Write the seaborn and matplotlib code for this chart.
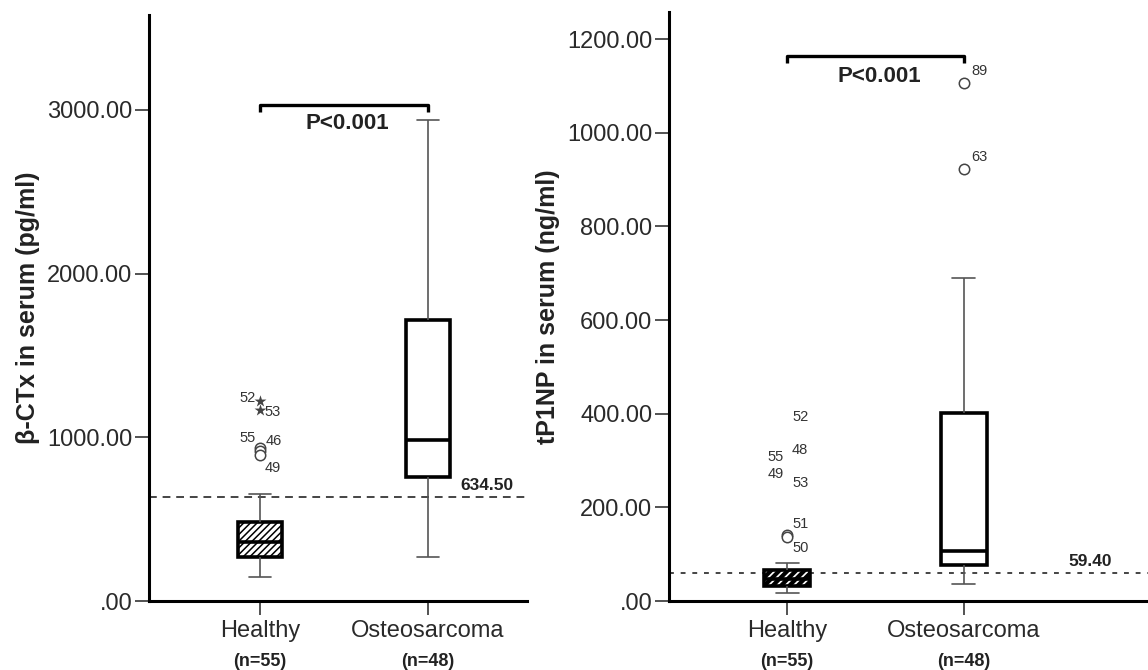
import numpy as np
import pandas as pd
import matplotlib
matplotlib.use("Agg")
import matplotlib.pyplot as plt
from matplotlib.ticker import FuncFormatter
import seaborn as sns

# ---------------- data ----------------
groups = ["Healthy", "Osteosarcoma"]
group_n = ["(n=55)", "(n=48)"]

# five-number summaries: lower whisker, Q1, median, Q3, upper whisker
ctx_healthy = [147, 269, 360, 483, 654]
ctx_osteo = [270, 755, 985, 1715, 2940]
p1np_healthy = [17, 32, 47, 66, 81]
p1np_osteo = [36, 77, 107, 402, 690]

# labelled outliers
ctx_out_group = ["Healthy", "Healthy", "Healthy", "Healthy", "Healthy"]
ctx_out_value = [935, 915, 895, 1222, 1167]
ctx_out_id = ["55", "46", "49", "52", "53"]
ctx_out_kind = ["o", "o", "o", "*", "*"]

p1np_out_group = ["Healthy"] * 7 + ["Osteosarcoma"] * 2
p1np_out_value = [392, 323, 308, 272, 252, 141, 137, 1106, 922]
p1np_out_id = ["52", "48", "55", "49", "53", "51", "50", "89", "63"]
p1np_out_kind = ["", "", "", "", "", "o", "o", "o", "o"]

ctx_cutoff = 634.50
p1np_cutoff = 59.40
p_text = "P<0.001"
ctx_ylabel = "β-CTx in serum (pg/ml)"
p1np_ylabel = "tP1NP in serum (ng/ml)"
ctx_ticks = [0, 1000, 2000, 3000]
p1np_ticks = [0, 200, 400, 600, 800, 1000, 1200]

# ---------------- styling ----------------
sns.set_style("ticks")
plt.rcParams["font.family"] = ["Liberation Sans", "DejaVu Sans"]
plt.rcParams["hatch.linewidth"] = 1.2
TXT = "#222222"

# label offsets in pixels (dx, dy, ha) for each outlier label
ctx_lab_off = [(-4, 10, "right"), (6, 10, "left"), (5, -14, "left"), (-4, 3, "right"), (4, -2, "left")]
p1np_lab_off = [(5, 0, "left"), (5, 0, "left"), (-3, 0, "right"), (-3, 0, "right"), (5, 0, "left"),
                (5, 11, "left"), (5, -11, "left"), (7, 12, "left"), (7, 12, "left")]

fig = plt.figure(figsize=(11.48, 6.70), dpi=100)
W, H = 1148, 670
ax1 = fig.add_axes([149 / W, 69 / H, (527 - 149) / W, (601 - 15) / H])
ax2 = fig.add_axes([669 / W, 69 / H, (1148 - 669) / W, (601 - 12) / H])


def fmt(v, pos):
    s = f"{v:.2f}"
    if s.startswith("0"):
        s = s[1:]
    return s


def panel(ax, box_h, box_o, out_group, out_value, out_id, out_kind, lab_off,
          cutoff, ylabel, ticks, ylim, xlim, bracket_y, bracket_d, p_dy,
          cut_x, hatch_h, hatch_lw, dash):
    df_box = pd.DataFrame({
        "group": [groups[0]] * len(box_h) + [groups[1]] * len(box_o),
        "value": box_h + box_o,
    })
    sns.boxplot(data=df_box, x="group", y="value", order=groups, whis=10,
                width=0.265, color="white", linecolor="black", linewidth=2.6,
                fliersize=0,
                whiskerprops=dict(color="#555555", linewidth=1.2),
                capprops=dict(color="#555555", linewidth=1.2),
                medianprops=dict(color="black", linewidth=2.6),
                capwidths=0.13, ax=ax)
    # hatch on the healthy box
    box_patch = ax.patches[0]
    box_patch.set_hatch(hatch_h)
    if hasattr(box_patch, "set_hatch_linewidth"):
        box_patch.set_hatch_linewidth(hatch_lw)

    df_out = pd.DataFrame({"group": out_group, "value": out_value,
                           "id": out_id, "kind": out_kind})
    circ = df_out[df_out["kind"] == "o"]
    star = df_out[df_out["kind"] == "*"]
    if len(circ):
        sns.stripplot(data=circ, x="group", y="value", order=groups, jitter=False,
                      marker="o", size=7.5, color="white", edgecolor="#444444",
                      linewidth=1.1, ax=ax, zorder=4)
    if len(star):
        sns.stripplot(data=star, x="group", y="value", order=groups, jitter=False,
                      marker="*", size=9, color="#444444", linewidth=0,
                      ax=ax, zorder=4)
    for g, v, i, (dx, dy, ha) in zip(out_group, out_value, out_id, lab_off):
        ax.annotate(i, xy=(groups.index(g), v), xytext=(dx, dy),
                    textcoords="offset pixels", ha=ha, va="center",
                    fontsize=10.5, color="#333333")

    # cutoff line
    ax.axhline(cutoff, color="#444444", linewidth=1.4, linestyle=(0, dash), zorder=1)
    ax.annotate(f"{cutoff:.2f}", xy=(cut_x, cutoff), xytext=(0, 4),
                textcoords="offset pixels", ha="left", va="bottom",
                fontsize=12.5, fontweight="bold", color=TXT)

    # significance bracket
    ax.plot([0, 0, 1, 1], [bracket_y - bracket_d, bracket_y, bracket_y, bracket_y - bracket_d],
            color="black", linewidth=2.4, solid_capstyle="butt", clip_on=False)
    ax.annotate(p_text, xy=(0.52, bracket_y), xytext=(0, p_dy),
                textcoords="offset pixels", ha="center", va="center",
                fontsize=16, fontweight="bold", color=TXT)

    ax.set_xlim(*xlim)
    ax.set_ylim(*ylim)
    ax.set_yticks(ticks)
    ax.yaxis.set_major_formatter(FuncFormatter(fmt))
    ax.set_xticks(range(len(groups)))
    ax.set_xticklabels(groups)
    ax.set_xlabel("")
    ax.set_ylabel(ylabel, fontsize=18, fontweight="bold", color=TXT, labelpad=5)
    for k, n in enumerate(group_n):
        ax.annotate(n, xy=(k, 0), xycoords=("data", "axes fraction"),
                    xytext=(0, -60), textcoords="offset pixels",
                    ha="center", va="center", fontsize=13, fontweight="bold",
                    color=TXT, annotation_clip=False)
    ax.tick_params(axis="y", labelsize=17, labelcolor="#2a2a2a",
                   length=10, width=1.3, color="#444444", pad=2)
    ax.tick_params(axis="x", labelsize=17, labelcolor="#2a2a2a",
                   length=10, width=1.3, color="#444444", pad=4)
    sns.despine(ax=ax)
    for s in ["left", "bottom"]:
        ax.spines[s].set_linewidth(2.2)
        ax.spines[s].set_color("black")


panel(ax1, ctx_healthy, ctx_osteo, ctx_out_group, ctx_out_value, ctx_out_id,
      ctx_out_kind, ctx_lab_off, ctx_cutoff, ctx_ylabel, ctx_ticks,
      (0, 3580), (-0.661, 1.589), 3030, 43, -18, 1.19, "/////", 1.1, (4, 3))
panel(ax2, p1np_healthy, p1np_osteo, p1np_out_group, p1np_out_value, p1np_out_id,
      p1np_out_kind, p1np_lab_off, p1np_cutoff, p1np_ylabel, p1np_ticks,
      (0, 1258), (-0.667, 2.04), 1164, 15, -20, 1.59, "////", 3.0, (2.5, 3.5))

fig.savefig("out.png", dpi=100)
